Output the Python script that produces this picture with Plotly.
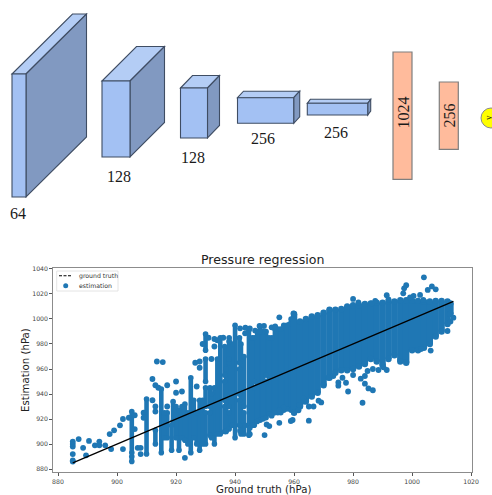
import plotly.graph_objects as go

W, H = 492, 495

# ---------- chart data (hPa) ----------
truth_x = [885, 1014]
truth_y = [885, 1014]

# vertical stacks of overlapping estimates, left part (thin gaps remain between them)
sparse_x = [905, 905, 910, 913, 915, 917, 918.5, 919, 921, 922, 924, 925, 927, 928, 930, 930, 930, 930,
            931.5, 931.5, 933, 935, 936.5, 936.5, 936.5, 938, 938, 938, 940, 941.5, 941.5, 941.5,
            943, 943, 944.7, 946.5, 946.5, 948.5, 950.5, 950.5, 952.5, 954.5, 956.5, 958.5,
            916, 920, 923, 926, 929, 932, 934, 937, 939, 942, 945.8, 947.5, 949.5, 951.5, 953.5, 955.5, 957.5, 959]
sparse_low = [886, 893, 892, 900, 893, 905, 895, 918, 895, 905, 900, 893, 900, 895, 900, 930, 950, 975,
              907, 930, 900, 908, 910, 935, 955, 912, 930, 968, 905, 915, 940, 965,
              908, 930, 907, 915, 950, 919, 921, 955, 924, 925, 927, 928,
              905, 905, 903, 905, 900, 905, 908, 910, 915, 908, 915, 918, 920, 924, 925, 925, 928, 927]
sparse_high = [890, 926, 936, 911, 944, 925, 915, 934, 927, 930, 925, 953, 925, 935, 925, 945, 968, 988,
               925, 945, 945, 985, 930, 950, 978, 925, 965, 985, 995, 935, 960, 985,
               925, 970, 991, 945, 985, 994, 950, 990, 985, 992, 995, 996,
               925, 930, 932, 935, 935, 940, 968, 960, 980, 980, 985, 990, 990, 985, 992, 992, 995, 1000]

# vertical stacks, right part (merged into one solid mass)
solid_x = [960, 962, 964, 966, 968, 970, 972, 974, 976, 978, 980, 982, 984, 986, 988,
           990, 992, 994, 996, 998, 1000, 1002, 1004, 1006, 1008, 1010, 1012, 1013]
solid_low = [925, 930, 934, 938, 941, 947, 953, 957, 959, 959, 960, 962, 964, 968, 966,
             963, 968, 971, 966, 965, 975, 975, 977, 980, 986, 990, 996, 1004]
solid_high = [1004, 998, 1000, 1002, 1003, 1005, 1007.5, 1007.5, 1008, 1010, 1011, 1011, 1012, 1012.5, 1013,
              1013, 1014, 1014, 1015, 1015, 1014.5, 1014.5, 1014, 1014, 1014.5, 1014.5, 1014, 1012.5]

# separately visible estimates
point_x = [885, 885, 885, 885, 885, 885, 887, 888.5, 889.5, 890.5, 892.5, 894, 894, 896, 897.5, 898, 899, 901,
           902, 902, 904, 906, 906, 907, 908, 908, 909, 909, 912, 912, 913, 914, 913.5, 915.5, 913, 913, 917,
           917, 920, 923, 922, 920, 927, 928, 926.5, 928, 929, 931, 933, 933, 932, 934, 936, 938, 943.5,
           1004, 1006.7, 1008, 1005.3, 998, 997.3, 997, 991.4, 992, 980, 981.8, 987.5, 986.3, 1000.5, 1002.7,
           1003.8, 999.3, 955, 959.8, 1014, 1013, 1012, 1006.3, 1003, 983.2, 978.3, 986.7, 985.2, 984, 982.6,
           984, 984.9, 986.7, 988.6, 990.3, 991.4, 975, 975, 977.6, 980, 973.3, 976.4, 971.6, 969.2, 968.3,
           966.6, 965, 965, 963.2, 963.2, 961.8, 961.5, 959.5, 958.9, 955, 956.4, 955, 952.4, 950.7, 951.6,
           950, 945, 945, 943.4, 941.7, 945, 946.8, 948.3, 949.8, 952.4, 953.6, 948.3, 941.7, 943.4]
point_y = [886, 887, 892, 898, 900, 902, 904, 897, 891, 902.5, 899, 899, 902, 899, 908, 896, 911, 915,
           896, 920, 921, 923, 912, 897, 892, 897, 925, 921, 952, 935, 947, 945, 966, 965.5, 930, 926, 930,
           947, 950, 889, 942, 941, 946, 966, 965, 961, 980, 985, 984, 978, 968, 983, 985, 982, 993,
           1033.3, 1026, 1023.7, 1023.2, 1027, 1024.5, 1020.5, 1019, 1015.7, 1016, 1013.3, 1014.4, 1012.5, 1018.4, 1019.2,
           1015.2, 1017.3, 1001.3, 1004.5, 1001, 998, 990.4, 974.7, 976, 933, 942, 943, 944.5, 948.3, 952.3,
           954.4, 958.4, 960, 959.2, 961.3, 959.2, 949.3, 946.7, 949, 955.2, 954.4, 953, 953, 933.3, 934.7,
           930, 930, 918.7, 936.5, 934, 931, 927, 919.2, 918.4, 917, 929.3, 927, 922.7, 915.7, 914.4,
           907.2, 908, 913, 915, 910.7, 992.5, 990.7, 994.4, 994.4, 993.3, 994, 990, 992.5, 988.5]

x_ticks = [880, 900, 920, 940, 960, 980, 1000, 1020]
y_ticks = [880, 900, 920, 940, 960, 980, 1000, 1020, 1040]

# ---------- labels ----------
block_labels = ["64", "128", "128", "256", "256"]
dense_labels = ["1024", "256"]
legend_labels = ["ground truth", "estimation"]

BLUE = "#1f77b4"


def px(x):
    return x / W


def py(y):
    return 1 - y / H


def stacks(xs, lows, highs):
    out_x, out_y = [], []
    for x, lo, hi in zip(xs, lows, highs):
        out_x += [x, x, None]
        out_y += [lo, hi, None]
    return out_x, out_y


fig = go.Figure()
sx, sy = stacks(sparse_x, sparse_low, sparse_high)
fig.add_trace(go.Scatter(x=sx, y=sy, mode="lines+markers", showlegend=False, hoverinfo="skip",
                         line=dict(color=BLUE, width=4.6), marker=dict(color=BLUE, size=5.6)))
sx, sy = stacks(solid_x, solid_low, solid_high)
fig.add_trace(go.Scatter(x=sx, y=sy, mode="lines+markers", showlegend=False, hoverinfo="skip",
                         line=dict(color=BLUE, width=6.4), marker=dict(color=BLUE, size=6.4)))
fig.add_trace(go.Scatter(x=point_x, y=point_y, mode="markers", name="estimation", showlegend=False,
                         marker=dict(color=BLUE, size=5.8)))
fig.add_trace(go.Scatter(x=truth_x, y=truth_y, mode="lines", name="ground truth", showlegend=False,
                         line=dict(color="black", width=1.3)))
# invisible helper that keeps the full-page overlay axes alive for the diagram
fig.add_trace(go.Scatter(x=[0, W], y=[0, H], xaxis="x2", yaxis="y2", mode="markers", showlegend=False,
                         hoverinfo="skip", marker=dict(opacity=0, size=1)))

shapes, annotations = [], []
REF = dict(xref="x2", yref="y2")


def path(pts, fill, line="#3f4d63", width=1.1):
    d = "M " + " L ".join(f"{a:.2f},{b:.2f}" for a, b in pts) + " Z"
    shapes.append(dict(type="path", path=d, fillcolor=fill, line=dict(color=line, width=width), **REF))


def block(x0, y0, x1, y1, dx, dy):
    path([(x0, y0), (x0 + dx, y0 - dy), (x1 + dx, y0 - dy), (x1, y0)], "#b4cdf5")
    path([(x1, y0), (x1 + dx, y0 - dy), (x1 + dx, y1 - dy), (x1, y1)], "#8199c1")
    path([(x0, y0), (x1, y0), (x1, y1), (x0, y1)], "#a3c1f3")


block(12, 74, 26, 197, 60.5, 60)
block(102, 81, 130, 157, 34.5, 34.5)
block(180.5, 88, 207.5, 138, 12, 12.5)
block(237.5, 97.7, 293.7, 123.3, 6, 6.5)
block(307.3, 103.3, 367.7, 115, 3, 4)

for x0, y0, x1, y1 in [(393, 52, 412, 179.3), (439.3, 82, 458.3, 149.3)]:
    path([(x0, y0), (x1, y0), (x1, y1), (x0, y1)], "#ffbb9c", line="#7f7f7f", width=1.2)

shapes.append(dict(type="circle", x0=481, x1=501, y0=108, y1=128,
                   fillcolor="#ffff00", line=dict(color="#8a8a8a", width=1), **REF))

# compact legend (matplotlib-style row spacing)
path([(56.7, 271), (118, 271), (118, 291), (56.7, 291)], "rgba(255,255,255,0.85)", line="#dddddd", width=0.8)
shapes.append(dict(type="line", x0=59, x1=72, y0=275.7, y1=275.7,
                   line=dict(color="black", width=1.1, dash="3px,1.5px"), **REF))
shapes.append(dict(type="circle", x0=63.2, x1=68.2, y0=283.2, y1=288.2,
                   fillcolor=BLUE, line=dict(width=0), **REF))


def note(text, x, y, size, font="Liberation Serif", color="#1a1a1a", angle=0, anchor="center"):
    annotations.append(dict(text=text, x=x, y=y, xanchor=anchor, yanchor="middle", showarrow=False,
                            textangle=angle, font=dict(family=font, size=size, color=color), **REF))


for label, (x, y) in zip(block_labels, [(17.5, 213), (118.5, 176), (193, 157), (263, 138), (336, 132)]):
    note(label, x, y, 16)
for label, (x, y) in zip(dense_labels, [(402.5, 113), (449, 115.5)]):
    note(label, x, y, 16, angle=-90)
note("y", 488, 118, 9, angle=-90)
note("Pressure regression", 262, 259, 12.6, font="DejaVu Sans", color="#222222")
note(legend_labels[0], 76.5, 275.7, 6.2, font="DejaVu Sans", color="#333333", anchor="left")
note(legend_labels[1], 77, 285.7, 6.2, font="DejaVu Sans", color="#333333", anchor="left")
note("Ground truth (hPa)", 263, 489.5, 10.2, font="DejaVu Sans", color="#222222")
note("Estimation (hPa)", 25, 370, 10.2, font="DejaVu Sans", color="#222222", angle=-90)

axis_style = dict(showgrid=False, zeroline=False, showline=True, mirror=True, linecolor="#8c8c8c", linewidth=1.2,
                  ticks="outside", ticklen=3, tickwidth=0.8, tickcolor="#555555", automargin=False,
                  tickfont=dict(size=6.2, color="#444444"))

fig.update_layout(
    width=W, height=H, margin=dict(l=0, r=0, t=0, b=0), autosize=False, showlegend=False,
    paper_bgcolor="white", plot_bgcolor="rgba(0,0,0,0)", shapes=shapes, annotations=annotations,
    font=dict(family="DejaVu Sans", color="#333333"),
    xaxis=dict(domain=[px(53.3), px(472.3)], range=[878.4, 1020.4], tickvals=x_ticks, **axis_style),
    yaxis=dict(domain=[py(472.3), py(267.7)], range=[877.4, 1041], tickvals=y_ticks, **axis_style),
    xaxis2=dict(domain=[0, 1], range=[0, W], anchor="y2", visible=False, fixedrange=True, automargin=False),
    yaxis2=dict(domain=[0, 1], range=[H, 0], anchor="x2", visible=False, fixedrange=True, automargin=False),
)

fig.write_html("out.html", config=dict(displayModeBar=False),
               post_script="document.body.style.margin='0';document.documentElement.style.overflow='hidden';")
